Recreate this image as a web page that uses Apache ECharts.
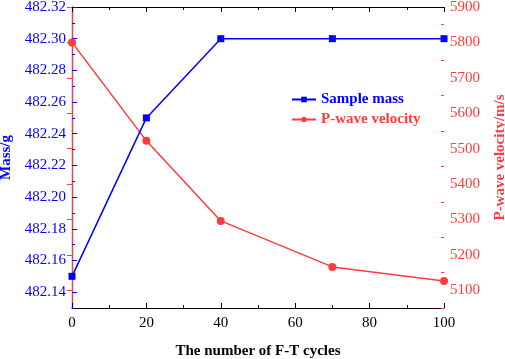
<!DOCTYPE html>
<html>
<head>
<meta charset="utf-8">
<script src="https://cdn.jsdelivr.net/npm/echarts@6/dist/echarts.min.js"></script>
<style>
  html, body { margin: 0; padding: 0; background: #fff; }
  #chart { width: 505px; height: 359px; }
</style>
</head>
<body>
<div id="chart"></div>
<script>
// F-T cycles vs sample mass and P-wave velocity
const cycles = [0, 20, 40, 70, 100]
const sampleMass = [482.15, 482.25, 482.30, 482.30, 482.30]
const pWaveVelocity = [5800, 5522, 5296, 5166, 5126]

// tick labels
const massTicks = [482.14, 482.16, 482.18, 482.20, 482.22, 482.24, 482.26, 482.28, 482.30, 482.32]
const massMinorTicks = [482.13, 482.15, 482.17, 482.19, 482.21, 482.23, 482.25, 482.27, 482.29, 482.31]
const velocityTicks = [5100, 5200, 5300, 5400, 5500, 5600, 5700, 5800, 5900]
const velocityMinorTicks = [5050, 5150, 5250, 5350, 5450, 5550, 5650, 5750, 5850]

const FONT = 'Liberation Serif'
const BLUE = '#0000ff'
const RED = '#ff3b3b'

const chart = echarts.init(document.getElementById('chart'))

const pairs = (ys) => cycles.map((x, i) => [x, ys[i]])

// same rect for both grids (second one only carries the minor y ticks)
const gridRect = { left: 72, right: 61, top: 7, bottom: 51, outerBoundsMode: 'none', containLabel: false }

const option = {
  animation: false,
  grid: [gridRect, { ...gridRect }],
  legend: {
    orient: 'vertical',
    left: 286,
    top: 87,
    itemWidth: 24,
    itemHeight: 7,
    itemGap: 5,
    data: [
      { name: 'Sample mass', textStyle: { color: BLUE } },
      { name: 'P-wave velocity', textStyle: { color: RED } }
    ],
    textStyle: { fontFamily: FONT, fontWeight: 'bold', fontSize: 15 }
  },
  xAxis: [
    {
      type: 'value',
      min: 0,
      max: 100,
      interval: 20,
      name: 'The number of F-T cycles',
      nameLocation: 'middle',
      nameGap: 36,
      nameTextStyle: { fontFamily: FONT, fontWeight: 'bold', fontSize: 15, color: '#000' },
      axisLine: { lineStyle: { color: '#000', width: 1.2 } },
      axisTick: { inside: true, length: 5, lineStyle: { color: '#000' } },
      minorTick: { show: true, splitNumber: 2, length: 3, lineStyle: { color: '#000' } },
      axisLabel: { fontFamily: FONT, fontSize: 15, color: '#000', margin: 8 },
      splitLine: { show: false }
    },
    {
      type: 'value',
      position: 'top',
      min: 0,
      max: 100,
      interval: 20,
      axisLine: { show: true, lineStyle: { color: '#000', width: 1.2 } },
      axisTick: { inside: true, length: 5, lineStyle: { color: '#000' } },
      minorTick: { show: true, splitNumber: 2, length: 3, lineStyle: { color: '#000' } },
      axisLabel: { show: false },
      splitLine: { show: false }
    },
    {
      type: 'value',
      gridIndex: 1,
      min: 0,
      max: 100,
      show: false
    }
  ],
  yAxis: [
    {
      type: 'value',
      position: 'left',
      min: 482.13,
      max: 482.32,
      name: 'Mass/g',
      nameLocation: 'middle',
      nameGap: 50,
      nameTextStyle: { fontFamily: FONT, fontWeight: 'bold', fontSize: 15, color: BLUE },
      axisLine: { show: true, lineStyle: { color: BLUE, width: 1.2 } },
      axisTick: { show: true, inside: true, length: 5, customValues: massTicks, lineStyle: { color: BLUE } },
      axisLabel: {
        fontFamily: FONT, fontSize: 15, color: BLUE, margin: 6,
        customValues: massTicks,
        formatter: (v) => v.toFixed(2)
      },
      splitLine: { show: false }
    },
    {
      type: 'value',
      position: 'right',
      min: 5050,
      max: 5900,
      name: 'P-wave velocity/m/s',
      nameLocation: 'middle',
      nameGap: 49,
      nameTextStyle: { fontFamily: FONT, fontWeight: 'bold', fontSize: 15, color: RED },
      axisLine: { show: true, lineStyle: { color: RED, width: 1.2 } },
      axisTick: { show: true, inside: true, length: 5, customValues: velocityTicks, lineStyle: { color: RED } },
      axisLabel: {
        fontFamily: FONT, fontSize: 15, color: RED, margin: 6,
        customValues: velocityTicks,
        formatter: (v) => String(v)
      },
      splitLine: { show: false }
    },
    // minor ticks only
    {
      type: 'value',
      gridIndex: 1,
      position: 'left',
      min: 482.13,
      max: 482.32,
      axisLine: { show: false },
      axisTick: { show: true, inside: true, length: 3, customValues: massMinorTicks, lineStyle: { color: BLUE } },
      axisLabel: { show: false },
      splitLine: { show: false }
    },
    {
      type: 'value',
      gridIndex: 1,
      position: 'right',
      min: 5050,
      max: 5900,
      axisLine: { show: false },
      axisTick: { show: true, inside: true, length: 3, customValues: velocityMinorTicks, lineStyle: { color: RED } },
      axisLabel: { show: false },
      splitLine: { show: false }
    }
  ],
  series: [
    {
      name: 'Sample mass',
      type: 'line',
      yAxisIndex: 0,
      data: pairs(sampleMass),
      symbol: 'rect',
      symbolSize: 7,
      lineStyle: { color: BLUE, width: 1.5 },
      itemStyle: { color: BLUE },
      z: 3
    },
    {
      name: 'P-wave velocity',
      type: 'line',
      yAxisIndex: 1,
      data: pairs(pWaveVelocity),
      symbol: 'circle',
      symbolSize: 8,
      lineStyle: { color: RED, width: 1.5 },
      itemStyle: { color: RED },
      z: 2
    }
  ]
}

chart.setOption(option)
</script>
</body>
</html>
